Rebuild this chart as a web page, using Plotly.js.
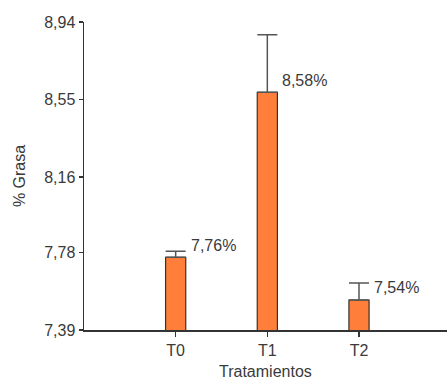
<!DOCTYPE html>
<html>
<head>
<meta charset="utf-8">
<script src="https://cdn.plot.ly/plotly-3.0.1.min.js"></script>
<style>
  html, body { margin: 0; padding: 0; background: #fff; }
  #chart { width: 447px; height: 381px; }
</style>
</head>
<body>
<div id="chart"></div>
<script>
// Fat content (%) by treatment, with upper error bars
const tratamientos = ['T0', 'T1', 'T2'];
const grasa = [7.756, 8.586, 7.541];
const errorSup = [0.03, 0.29, 0.085];
const etiquetas = ['7,76%', '8,58%', '7,54%'];
const yTicks = [7.39, 7.78, 8.16, 8.55, 8.94];
const yTickText = ['7,39', '7,78', '8,16', '8,55', '8,94'];
const xTitulo = 'Tratamientos';

const xIdx = tratamientos.map((_, i) => i);
const font = { family: 'Liberation Sans, Arial, sans-serif', size: 16, color: '#3a3a3a' };

const trace = {
  type: 'bar',
  x: xIdx,
  y: grasa,
  base: 0,
  width: 0.22,
  marker: { color: '#FF7F3A', line: { color: '#333333', width: 1.2 } },
  error_y: {
    type: 'data',
    symmetric: false,
    array: errorSup,
    arrayminus: errorSup.map(() => 0),
    color: '#555555',
    thickness: 1.5,
    width: 10
  },
  hoverinfo: 'none'
};

// value labels to the upper right of each bar
const annotations = xIdx.map((x, i) => ({
  x: x + 0.14,
  y: grasa[i],
  xref: 'x',
  yref: 'y',
  text: etiquetas[i],
  showarrow: false,
  xanchor: 'left',
  yanchor: 'middle',
  yshift: 12,
  font: font
}));

// x-axis title, placed low near the bottom edge
annotations.push({
  x: 0.5,
  y: 0,
  xref: 'paper',
  yref: 'paper',
  text: xTitulo,
  showarrow: false,
  xanchor: 'center',
  yanchor: 'bottom',
  yshift: -51,
  borderpad: 0,
  font: font
});

const layout = {
  width: 447,
  height: 381,
  margin: { l: 84, r: 0, t: 22, b: 51 },
  paper_bgcolor: '#ffffff',
  plot_bgcolor: '#ffffff',
  showlegend: false,
  font: font,
  xaxis: {
    range: [-1.0, 2.96],
    tickmode: 'array',
    tickvals: xIdx,
    ticktext: tratamientos,
    showline: true,
    linecolor: '#333333',
    linewidth: 1.5,
    ticks: 'outside',
    ticklen: 5,
    tickwidth: 1.2,
    tickcolor: '#333333',
    showgrid: false,
    zeroline: false,
    tickfont: font
  },
  yaxis: {
    range: [7.39, 8.94],
    tickmode: 'array',
    tickvals: yTicks,
    ticktext: yTickText,
    showline: true,
    linecolor: '#333333',
    linewidth: 1.5,
    ticks: 'outside',
    ticklen: 4,
    tickwidth: 1.2,
    tickcolor: '#333333',
    showgrid: false,
    zeroline: false,
    tickfont: font,
    title: { text: '% Grasa', font: font, standoff: 14 }
  },
  annotations: annotations
};

Plotly.newPlot('chart', [trace], layout, { displayModeBar: false, staticPlot: true });
</script>
</body>
</html>
